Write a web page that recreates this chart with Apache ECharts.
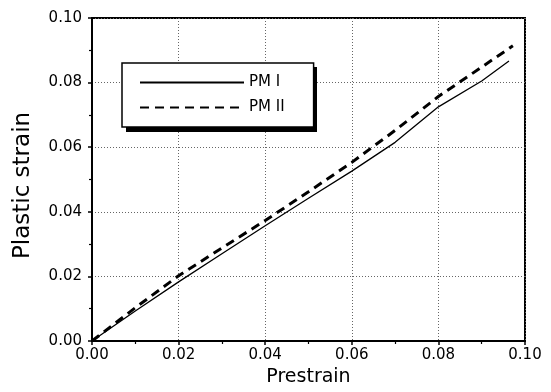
<!DOCTYPE html>
<html>
<head>
<meta charset="utf-8">
<script src="https://cdn.jsdelivr.net/npm/echarts@6/dist/echarts.min.js"></script>
<style>html,body{margin:0;padding:0;background:#fff}#c{width:551px;height:392px}</style>
</head>
<body>
<div id="c"></div>
<script>
const seriesNames = ['PM I', 'PM II'];
const pm1X = [0, 0.01, 0.02, 0.03, 0.04, 0.05, 0.06, 0.07, 0.08, 0.09, 0.0963];
const pm1Y = [0, 0.0093, 0.0183, 0.0270, 0.0357, 0.0442, 0.0526, 0.0615, 0.0725, 0.0805, 0.0867];
const pm2X = [0, 0.01, 0.02, 0.03, 0.04, 0.05, 0.06, 0.07, 0.08, 0.09, 0.0972];
const pm2Y = [0, 0.0103, 0.0202, 0.0288, 0.0373, 0.0462, 0.0553, 0.0652, 0.0757, 0.0848, 0.0914];
const xTicks = [0, 0.02, 0.04, 0.06, 0.08, 0.10];
const yTicks = [0, 0.02, 0.04, 0.06, 0.08, 0.10];

const font = 'DejaVu Sans';
const chart = echarts.init(document.getElementById('c'), null, {renderer: 'canvas'});
const axisCommon = {
  min: xTicks[0], max: xTicks[xTicks.length - 1], interval: 0.02,
  axisLine: {show: true, onZero: false, lineStyle: {color: '#000', width: 2}},
  axisTick: {show: true, inside: false, length: 4, lineStyle: {color: '#000', width: 1.5}},
  minorTick: {show: true, splitNumber: 2, length: 3, lineStyle: {color: '#000', width: 1.2}},
  splitLine: {show: true, lineStyle: {color: '#666', type: [1, 2], width: 1}},
  axisLabel: {color: '#000', fontFamily: font, fontSize: 15, formatter: v => v.toFixed(2)}
};
chart.setOption({
  animation: false,
  grid: {left: 92, right: 26, top: 18, bottom: 51, show: true, borderColor: '#000', borderWidth: 2},
  xAxis: Object.assign({}, axisCommon, {
    type: 'value', name: 'Prestrain', nameLocation: 'middle', nameGap: 22,
    nameTextStyle: {color: '#000', fontFamily: font, fontSize: 19},
    axisLabel: Object.assign({}, axisCommon.axisLabel, {margin: 7})
  }),
  yAxis: Object.assign({}, axisCommon, {
    type: 'value', min: yTicks[0], max: yTicks[yTicks.length - 1], name: 'Plastic strain', nameLocation: 'middle', nameGap: 57,
    nameTextStyle: {color: '#000', fontFamily: font, fontSize: 23, padding: [0, 12, 0, 0]},
    axisLabel: Object.assign({}, axisCommon.axisLabel, {margin: 10})
  }),
  graphic: [{
    type: 'rect', left: 126, top: 67, z: 3, silent: true,
    shape: {width: 191, height: 65}, style: {fill: '#000'}
  }],
  legend: {
    show: true, orient: 'vertical', left: 122, top: 63, z: 10,
    padding: [12, 29, 12, 17], itemWidth: 104, itemHeight: 14, itemGap: 10,
    backgroundColor: '#fff', borderColor: '#000', borderWidth: 1.5,
    itemStyle: {opacity: 0},
    textStyle: {color: '#000', fontFamily: font, fontSize: 15},
    data: seriesNames
  },
  series: [
    {name: seriesNames[0], type: 'line', symbol: 'none', smooth: false,
     itemStyle: {color: '#000'},
     lineStyle: {color: '#000', width: 1.3},
     data: pm1X.map((x, i) => [x, pm1Y[i]])},
    {name: seriesNames[1], type: 'line', symbol: 'none', smooth: false,
     itemStyle: {color: '#000'},
     lineStyle: {color: '#000', width: 3, type: [9, 6]},
     data: pm2X.map((x, i) => [x, pm2Y[i]])}
  ]
});
</script>
</body>
</html>
